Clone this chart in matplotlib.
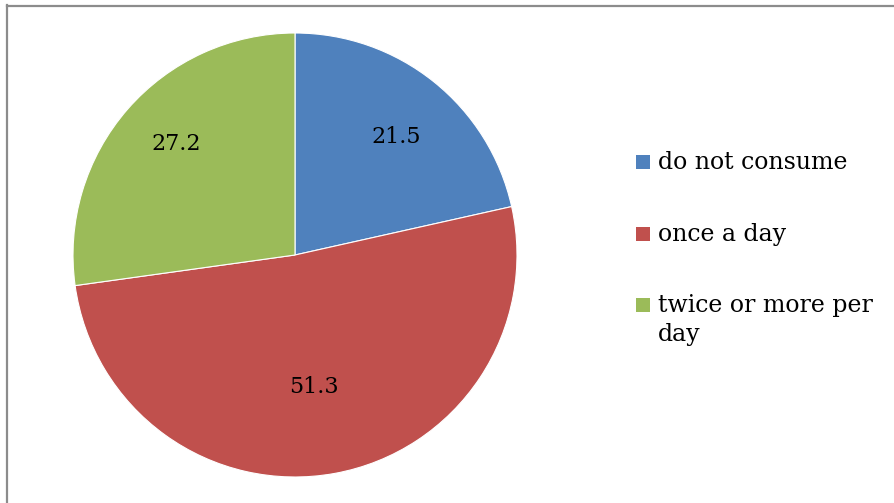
import numpy as np
import matplotlib.pyplot as plt
from matplotlib.patches import Rectangle
from matplotlib.lines import Line2D

# Data
categories = ['do not consume', 'once a day', 'twice or more per\nday']
values = [21.5, 51.3, 27.2]
colors = ['#4F81BD', '#C0504D', '#9BBB59']
label_r = [0.70, 0.60, 0.73]

W, H = 894, 503
fig = plt.figure(figsize=(W / 100, H / 100), dpi=100)

# pie axes: centre (295, 255) px, radius 222 px
cx, cy, r = 295, 255, 222
ax = fig.add_axes([(cx - r) / W, (H - cy - r) / H, 2 * r / W, 2 * r / H])
wedges, _ = ax.pie(values, colors=colors, startangle=90, counterclock=False,
                   radius=1, wedgeprops=dict(edgecolor='white', linewidth=0.8))
ax.set_xlim(-1, 1)
ax.set_ylim(-1, 1)
ax.set_aspect('equal')

for w, v, d in zip(wedges, values, label_r):
    ang = np.deg2rad((w.theta1 + w.theta2) / 2 - 2)
    ax.text(d * np.cos(ang), d * np.sin(ang), f'{v}', ha='center', va='center',
            fontsize=16, family='DejaVu Serif', color='black')

# frame lines (top and left only visible)
fig.add_artist(Line2D([7 / W, 7 / W], [0, 1 - 5 / H], color='#8c8c8c', lw=1.6,
                      transform=fig.transFigure))
fig.add_artist(Line2D([7 / W, 1], [1 - 6 / H, 1 - 6 / H], color='#8c8c8c', lw=1.6,
                      transform=fig.transFigure))

# legend drawn by hand so the marker sits on the first text line
rows_y = [162, 234, 305]
for c, lab, y in zip(colors, categories, rows_y):
    fig.add_artist(Rectangle((636 / W, 1 - (y + 7) / H), 14 / W, 14 / H,
                             facecolor=c, edgecolor='none',
                             transform=fig.transFigure))
    fig.text(658 / W, 1 - (y - 11) / H, lab, ha='left', va='top',
             fontsize=17, family='DejaVu Serif', linespacing=1.35)

fig.savefig('out.png', dpi=100)
